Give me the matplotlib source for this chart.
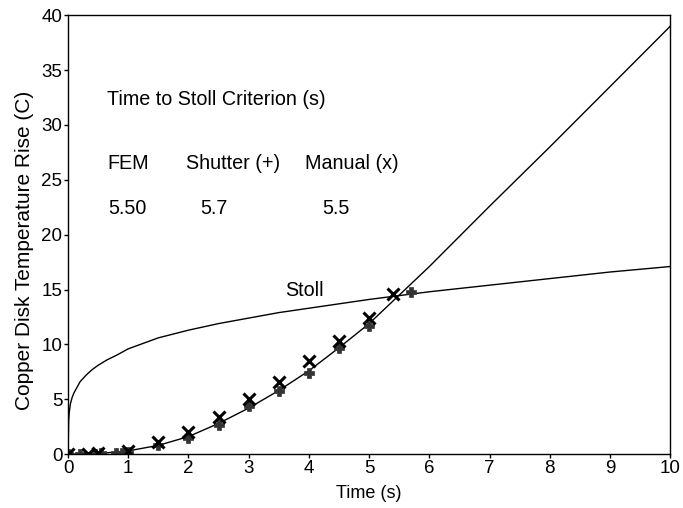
import numpy as np
import matplotlib.pyplot as plt

plt.rcParams['font.family'] = ['Liberation Sans', 'DejaVu Sans']

# Stoll criterion curve
stoll_t = [0, 0.01, 0.02, 0.04, 0.07, 0.1, 0.15, 0.2, 0.3, 0.4, 0.5, 0.65, 0.8, 1, 1.25, 1.5, 2, 2.5, 3, 3.5, 4, 4.5, 5, 5.5, 6, 7, 8, 9, 10]
stoll_y = [0, 3.0, 3.8, 4.6, 5.2, 5.6, 6.1, 6.6, 7.2, 7.7, 8.1, 8.6, 9.0, 9.6, 10.1, 10.6, 11.3, 11.9, 12.4, 12.9, 13.3, 13.7, 14.1, 14.45, 14.8, 15.4, 16.0, 16.6, 17.1]

# FEM curve
fem_t = [0, 0.5, 1, 1.5, 2, 2.5, 3, 3.5, 4, 4.5, 5, 5.5, 6, 7, 8, 9, 10]
fem_y = [0, 0.05, 0.3, 0.8, 1.6, 2.8, 4.2, 5.8, 7.6, 9.7, 11.9, 14.5, 17.1, 22.6, 28.0, 33.5, 39.0]

# Shutter (+) measurements
shutter_t = [0, 0.2, 0.45, 0.55, 0.8, 0.9, 1.0, 1.5, 2, 2.5, 3, 3.5, 4, 4.5, 5, 5.7]
shutter_y = [0, 0.05, 0.05, 0.1, 0.1, 0.15, 0.2, 0.8, 1.5, 2.7, 4.4, 5.8, 7.4, 9.7, 11.7, 14.8]

# Manual (x) measurements
manual_t = [0, 0.33, 0.5, 1.0, 1.5, 2, 2.5, 3, 3.5, 4, 4.5, 5, 5.4]
manual_y = [0, 0.0, 0.1, 0.3, 1.1, 2.0, 3.4, 5.0, 6.6, 8.5, 10.3, 12.4, 14.6]

fig = plt.figure(figsize=(6.83, 5.08), dpi=100)
ax = fig.add_axes([0.0996, 0.106, 0.8818, 0.864])

ax.plot(stoll_t, stoll_y, color='black', lw=1.0)
ax.plot(fem_t, fem_y, color='black', lw=1.0)
ax.plot(shutter_t, shutter_y, ls='none', marker='P', color='#333333', ms=7, mew=0.5)
ax.plot(manual_t, manual_y, ls='none', marker='x', color='black', ms=9, mew=2.2)

ax.set_xlim(0, 10)
ax.set_ylim(0, 40)
ax.set_xticks(range(0, 11))
ax.set_yticks(range(0, 41, 5))
ax.tick_params(direction='out', length=3, width=1, labelsize=13.5, pad=1)
ax.set_xlabel('Time (s)', fontsize=13)
ax.set_ylabel('Copper Disk Temperature Rise (C)', fontsize=15)
ax.xaxis.set_label_coords(0.5, -0.089)
ax.yaxis.set_label_coords(-0.073, 0.465)
ax.xaxis.label.set_va('center')
ax.yaxis.label.set_va('center')
for s in ax.spines.values():
    s.set_linewidth(1.0)

fs = 14.2
ax.text(0.65, 32.3, 'Time to Stoll Criterion (s)', fontsize=fs, va='center')
ax.text(0.65, 26.5, 'FEM', fontsize=fs, va='center')
ax.text(1.96, 26.5, 'Shutter (+)', fontsize=fs, va='center')
ax.text(3.94, 26.5, 'Manual (x)', fontsize=fs, va='center')
ax.text(0.66, 22.4, '5.50', fontsize=fs, va='center')
ax.text(2.19, 22.4, '5.7', fontsize=fs, va='center')
ax.text(4.22, 22.4, '5.5', fontsize=fs, va='center')
ax.text(3.6, 14.9, 'Stoll', fontsize=fs, va='center')

fig.savefig('out.png', dpi=100)
